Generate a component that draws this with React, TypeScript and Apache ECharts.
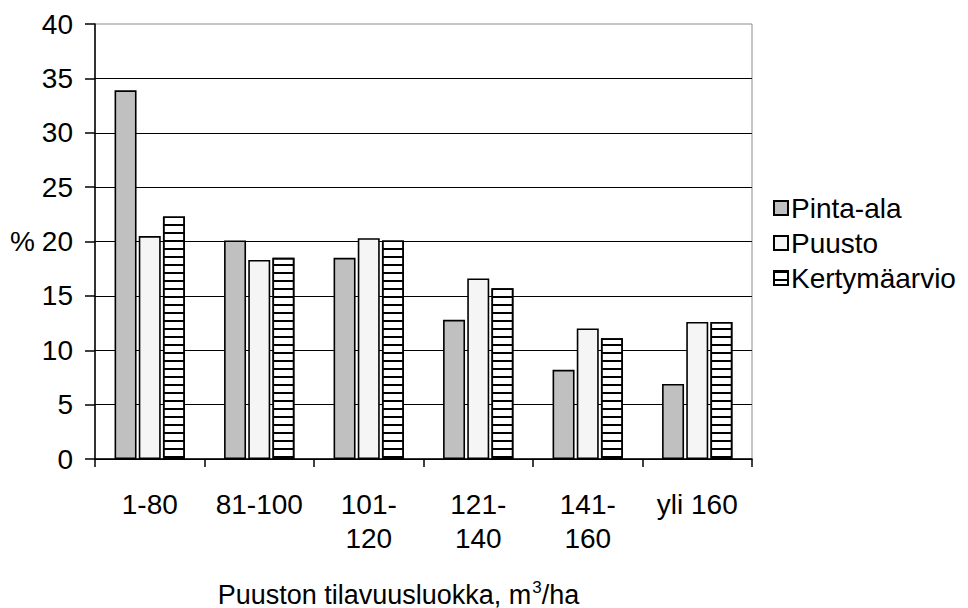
import React, { useEffect, useRef } from "react";
import * as echarts from "echarts";

const categories = ["1-80", "81-100", "101-\n120", "121-\n140", "141-\n160", "yli 160"];
const pintaAla = [33.9, 20.1, 18.5, 12.8, 8.2, 6.9];
const puusto = [20.5, 18.3, 20.3, 16.6, 12.0, 12.6];
const kertymaarvio = [22.3, 18.5, 20.1, 15.7, 11.1, 12.6];
const yTicks = { min: 0, max: 40, interval: 5 };

const FONT = "'Liberation Sans', Arial, sans-serif";

export default function App() {
  const ref = useRef<HTMLDivElement>(null);

  useEffect(() => {
    document.body.style.margin = "0";
    if (!ref.current) return;
    const chart = echarts.init(ref.current, undefined, { renderer: "svg" });
    const barBorder = { borderColor: "#000", borderWidth: 1.6 };
    chart.setOption({
      animation: false,
      backgroundColor: "#fff",
      textStyle: { fontFamily: FONT, color: "#000" },
      grid: {
        left: 95,
        right: 216,
        top: 24,
        bottom: 149,
        show: true,
        borderColor: "#8c8c8c",
        borderWidth: 1,
        containLabel: false,
        outerBoundsMode: "none",
      },
      legend: {
        orient: "vertical",
        left: 768,
        top: 189,
        itemWidth: 14,
        itemHeight: 14,
        itemGap: 7,
        icon: "rect",
        textStyle: { fontSize: 28, fontFamily: FONT, color: "#000", padding: [0, 0, 0, -2] },
        data: ["Pinta-ala", "Puusto", "Kertymäarvio"],
      },
      xAxis: {
        type: "category",
        data: categories,
        axisLine: { lineStyle: { color: "#000", width: 1.5 } },
        axisTick: { show: true, length: 8, lineStyle: { color: "#000", width: 1.5 } },
        axisLabel: {
          fontSize: 28,
          fontFamily: FONT,
          color: "#000",
          margin: 28,
          lineHeight: 34,
          interval: 0,
        },
        name: "{a|Puuston tilavuusluokka, m}{s|3}{a|/ha}",
        nameLocation: "middle",
        nameGap: 120,
        nameTextStyle: {
          padding: [0, 50, 0, 0],
          rich: {
            a: { fontSize: 27, fontFamily: FONT, color: "#000" },
            s: { fontSize: 17, fontFamily: FONT, color: "#000", padding: [0, 0, 14, 1] },
          },
        },
      },
      yAxis: {
        type: "value",
        min: yTicks.min,
        max: yTicks.max,
        interval: yTicks.interval,
        axisLine: { show: true, lineStyle: { color: "#000", width: 1.5 } },
        axisTick: { show: true, length: 10, lineStyle: { color: "#000", width: 1.5 } },
        axisLabel: { fontSize: 28, fontFamily: FONT, color: "#000", margin: 22 },
        splitLine: { show: true, showMaxLine: false, lineStyle: { color: "#000", width: 1.2 } },
        name: "%",
        nameLocation: "middle",
        nameRotate: 0,
        nameGap: 60,
        nameTextStyle: { fontSize: 28, fontFamily: FONT, color: "#000" },
      },
      series: [
        {
          name: "Pinta-ala",
          type: "bar",
          data: pintaAla,
          barWidth: 22,
          barGap: "10%",
          itemStyle: { color: "#c0c0c0", ...barBorder },
        },
        {
          name: "Puusto",
          type: "bar",
          data: puusto,
          barWidth: 22,
          barGap: "10%",
          itemStyle: { color: "#f5f5f5", ...barBorder },
        },
        {
          name: "Kertymäarvio",
          type: "bar",
          data: kertymaarvio,
          barWidth: 22,
          barGap: "10%",
          itemStyle: {
            color: "#fff",
            ...barBorder,
            decal: {
              symbol: "rect",
              symbolSize: 1,
              dashArrayX: [[1, 0]],
              dashArrayY: [2, 6],
              rotation: 0,
              color: "#000",
            },
          },
        },
      ],
    });
    return () => chart.dispose();
  }, []);

  return <div ref={ref} style={{ width: 968, height: 608 }} />;
}
